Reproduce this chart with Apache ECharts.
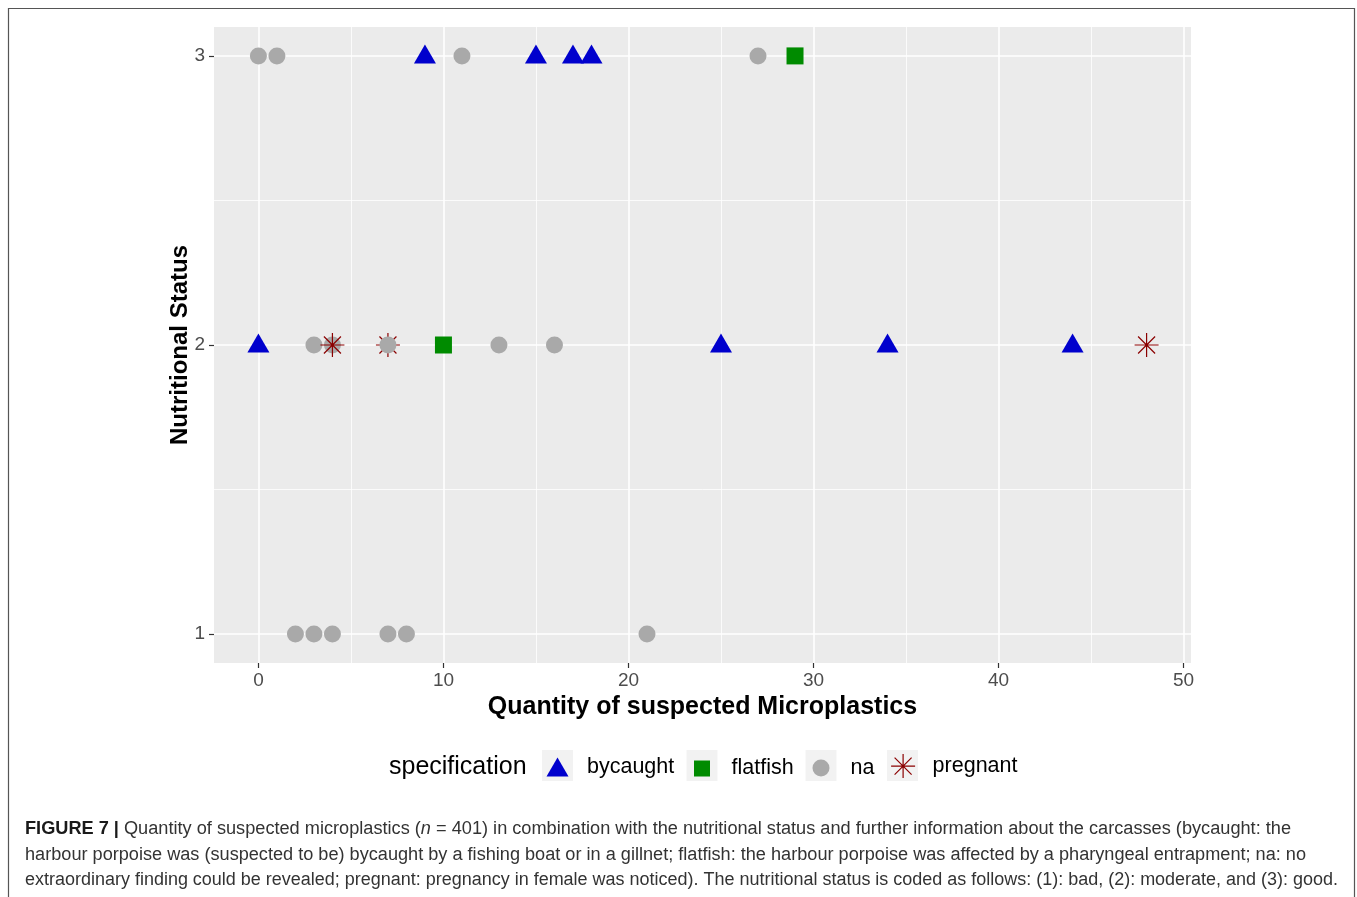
<!DOCTYPE html>
<html>
<head>
<meta charset="utf-8">
<title>Quantity of suspected Microplastics vs Nutritional Status</title>
<script src="https://cdn.jsdelivr.net/npm/echarts@6/dist/echarts.min.js"></script>
<style>
  html, body { margin: 0; padding: 0; background: #ffffff; }
  #chart { width: 1357px; height: 897px; }
</style>
</head>
<body>
<div id="chart"></div>
<script>
// ---- data: quantity of suspected microplastics (x) and nutritional status (y) ----
const bycaughtX = [9, 15, 17, 18, 0, 25, 34, 44];
const bycaughtY = [3, 3, 3, 3, 2, 2, 2, 2];

const flatfishX = [29, 10];
const flatfishY = [3, 2];

const naX = [0, 1, 11, 27, 3, 4, 7, 13, 16, 2, 3, 4, 7, 8, 21];
const naY = [3, 3, 3, 3, 2, 2, 2, 2, 2, 1, 1, 1, 1, 1, 1];

const pregnantX = [4, 48, 7];
const pregnantY = [2, 2, 2];
// the carcass at 7 is plotted before its "na" twin, so it sits underneath
const pregnantUnderNa = [false, false, true];

const specNames = ['bycaught', 'flatfish', 'na', 'pregnant'];

const xTicks = [0, 10, 20, 30, 40, 50];
const xMinorTicks = [5, 15, 25, 35, 45];
const yTicks = [1, 2, 3];
const yMinorTicks = [1.5, 2.5];

const xTitle = 'Quantity of suspected Microplastics';
const yTitle = 'Nutritional Status';
const legendTitle = 'specification';

const captionLines = [
  [['b', 'FIGURE 7 |'], ['', ' Quantity of suspected microplastics ('], ['i', 'n'], ['', ' = 401) in combination with the nutritional status and further information about the carcasses (bycaught: the']],
  [['', 'harbour porpoise was (suspected to be) bycaught by a fishing boat or in a gillnet; flatfish: the harbour porpoise was affected by a pharyngeal entrapment; na: no']],
  [['', 'extraordinary finding could be revealed; pregnant: pregnancy in female was noticed). The nutritional status is coded as follows: (1): bad, (2): moderate, and (3): good.']]
];

// ---- styling / layout ----
const FONT = '"Liberation Sans", Arial, Helvetica, sans-serif';
const PANEL_BG = '#EBEBEB';
const COLORS = { bycaught: '#0000CD', flatfish: '#008B00', na: '#A9A9A9', pregnant: '#8B0000' };
const STAR = 'path://M12,0 L12,24 M0,12 L24,12 M3.5,3.5 L20.5,20.5 M3.5,20.5 L20.5,3.5';

function pairs(xs, ys, keep) {
  const out = [];
  for (let i = 0; i < xs.length; i++) {
    if (!keep || keep(i)) out.push([xs[i], ys[i]]);
  }
  return out;
}

const grid = { left: 214, top: 27, width: 977, height: 636 };

function gridLines(values, axis, width) {
  return values.map(v => ({ [axis]: v, lineStyle: { color: '#FFFFFF', width: width, type: 'solid', opacity: 1 } }));
}

const starStyle = { color: 'rgba(0,0,0,0)', borderColor: COLORS.pregnant, borderWidth: 1.2, opacity: 1 };

const series = [
  {
    // panel grid lines, kept beneath every point
    type: 'scatter', name: '_grid', data: [], z: 1, silent: true,
    markLine: {
      z: 1, silent: true, symbol: ['none', 'none'], animation: false,
      label: { show: false },
      emphasis: { disabled: true },
      data: [].concat(
        gridLines(xMinorTicks, 'xAxis', 0.8),
        gridLines(yMinorTicks, 'yAxis', 0.8),
        gridLines(xTicks, 'xAxis', 1.6),
        gridLines(yTicks, 'yAxis', 1.6)
      )
    }
  },
  {
    name: 'pregnant', type: 'scatter', z: 3,
    symbol: STAR, symbolSize: 24,
    itemStyle: starStyle,
    data: pairs(pregnantX, pregnantY, i => pregnantUnderNa[i])
  },
  {
    name: 'na', type: 'scatter', z: 3,
    symbol: 'circle', symbolSize: 17,
    itemStyle: { color: COLORS.na, opacity: 1 },
    data: pairs(naX, naY)
  },
  {
    name: 'bycaught', type: 'scatter', z: 3,
    symbol: 'triangle', symbolSize: [22, 19], symbolOffset: [0, -2],
    itemStyle: { color: COLORS.bycaught, opacity: 1 },
    data: pairs(bycaughtX, bycaughtY)
  },
  {
    name: 'flatfish', type: 'scatter', z: 3,
    symbol: 'rect', symbolSize: 17,
    itemStyle: { color: COLORS.flatfish, opacity: 1 },
    data: pairs(flatfishX, flatfishY)
  },
  {
    name: 'pregnant', type: 'scatter', z: 3,
    symbol: STAR, symbolSize: 24,
    itemStyle: starStyle,
    data: pairs(pregnantX, pregnantY, i => !pregnantUnderNa[i])
  }
];

// legend keys: one legend per key so each sits on its own grey key box
const keyCenters = { bycaught: 557.5, flatfish: 702, na: 821, pregnant: 902.5 };
const keySizes = { bycaught: [22, 19], flatfish: [16, 16], na: [17, 17], pregnant: [24, 24] };
const keyIcons = { bycaught: 'triangle', flatfish: 'rect', na: 'circle', pregnant: STAR };
const KEY_BOX = 31, KEY_TOP = 750, KEY_TEXT_GAP = 14;
const keyCy = KEY_TOP + KEY_BOX / 2;

const legends = specNames.map(name => {
  const [w, h] = keySizes[name];
  const cx = keyCenters[name];
  const left = cx - w / 2;
  const pad = (cx + KEY_BOX / 2 + KEY_TEXT_GAP) - (left + w + 5);
  return {
    data: [{ name: name, icon: keyIcons[name] }],
    left: left, top: keyCy - h / 2, padding: 0,
    itemWidth: w, itemHeight: h, itemGap: 0,
    selectedMode: false,
    itemStyle: name === 'pregnant' ? { color: 'rgba(0,0,0,0)', borderColor: COLORS.pregnant, borderWidth: 1.2, opacity: 1 } : { color: COLORS[name], opacity: 1 },
    textStyle: { fontFamily: FONT, fontSize: 21.5, color: '#000000', padding: [0, 0, 0, pad] }
  };
});

const keyBoxes = specNames.map(name => ({
  type: 'rect', z: 1, silent: true,
  shape: { x: keyCenters[name] - KEY_BOX / 2, y: KEY_TOP, width: KEY_BOX, height: KEY_BOX },
  style: { fill: '#F2F2F2' }
}));

// caption text, squeezed horizontally to the column width
const captionFontSize = 18;
const captionX = 25;
const captionYs = [829, 855, 880];
const captionWidths = [1266, 1281, 1313];
const measureCtx = document.createElement('canvas').getContext('2d');
function measure(segs) {
  let w = 0;
  segs.forEach(([k, t]) => {
    measureCtx.font = (k === 'i' ? 'italic ' : '') + (k === 'b' ? 'bold ' : '') + captionFontSize + 'px ' + FONT;
    w += measureCtx.measureText(t).width;
  });
  return w;
}
const captionEls = captionLines.map((segs, i) => {
  const text = segs.map(([k, t]) => k ? '{' + k + '|' + t + '}' : t).join('');
  const sx = captionWidths[i] / measure(segs);
  return {
    type: 'text', z: 5, silent: true,
    x: captionX, y: captionYs[i], scaleX: sx,
    style: {
      text: text, fill: '#333333', fontFamily: FONT, fontSize: captionFontSize,
      verticalAlign: 'middle', align: 'left',
      rich: {
        b: { fontWeight: 'bold', fontFamily: FONT, fontSize: captionFontSize, fill: '#1A1A1A' },
        i: { fontStyle: 'italic', fontFamily: FONT, fontSize: captionFontSize, fill: '#333333' }
      }
    }
  };
});

const tickStyle = { color: '#333333', width: 1.2 };

const option = {
  animation: false,
  backgroundColor: '#FFFFFF',
  grid: Object.assign({ show: true, backgroundColor: PANEL_BG, borderWidth: 0, containLabel: false }, grid),
  xAxis: {
    type: 'value', min: -2.4, max: 50.4,
    name: xTitle, nameLocation: 'middle', nameGap: 32, nameMoveOverlap: false,
    nameTextStyle: { fontFamily: FONT, fontSize: 25, fontWeight: 'bold', color: '#000000' },
    axisLine: { show: false, onZero: false },
    axisTick: { show: true, length: 5, customValues: xTicks, lineStyle: tickStyle },
    axisLabel: { customValues: xTicks, margin: 8, fontFamily: FONT, fontSize: 19, color: '#4D4D4D' },
    splitLine: { show: false }
  },
  yAxis: {
    type: 'value', min: 0.9, max: 3.1,
    name: yTitle, nameLocation: 'middle', nameGap: 22, nameRotate: 90, nameMoveOverlap: false,
    nameTextStyle: { fontFamily: FONT, fontSize: 24, fontWeight: 'bold', color: '#000000' },
    axisLine: { show: false, onZero: false },
    axisTick: { show: true, length: 5, customValues: yTicks, lineStyle: tickStyle },
    axisLabel: { customValues: yTicks, margin: 9, fontFamily: FONT, fontSize: 19, color: '#4D4D4D' },
    splitLine: { show: false }
  },
  legend: legends,
  graphic: [
    {
      type: 'rect', z: 0, silent: true,
      shape: { x: 8.5, y: 8.5, width: 1346, height: 1000 },
      style: { fill: 'none', stroke: '#555555', lineWidth: 1.2 }
    },
    {
      type: 'text', z: 5, silent: true, x: 389, y: keyCy + 1.5,
      style: { text: legendTitle, fontFamily: FONT, fontSize: 25, fill: '#000000', verticalAlign: 'middle', align: 'left' }
    }
  ].concat(keyBoxes, captionEls),
  series: series
};

const chart = echarts.init(document.getElementById('chart'), null, { renderer: 'canvas' });
chart.setOption(option);
</script>
</body>
</html>
